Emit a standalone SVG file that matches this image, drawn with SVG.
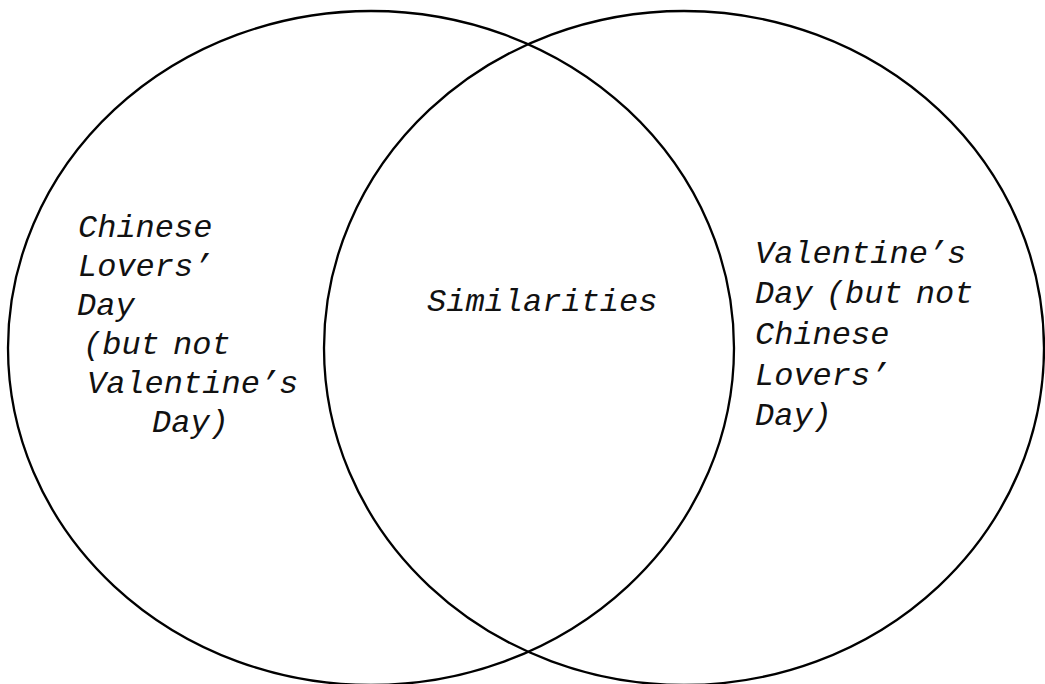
<svg xmlns="http://www.w3.org/2000/svg" width="1045" height="684" viewBox="0 0 1045 684">
<style>
.c{fill:none;stroke:#000;stroke-width:2.3}
.t{font-family:"Liberation Mono","Courier New",monospace;font-style:italic;font-size:32px;fill:#111}
.ws{word-spacing:-6px}
</style>
<rect width="1045" height="684" fill="#fff"/>
<g id="left-set">
<ellipse class="c" cx="371" cy="348" rx="363" ry="337"/>
<text class="t" x="78" y="237">Chinese</text>
<text class="t" x="78" y="276">Lovers’</text>
<text class="t" x="77" y="315">Day</text>
<text class="t ws" x="83" y="354">(but not</text>
<text class="t" x="87" y="393">Valentine’s</text>
<text class="t" x="152" y="432">Day)</text>
</g>
<g id="right-set">
<ellipse class="c" cx="684" cy="348" rx="360" ry="337"/>
<text class="t" x="755" y="263">Valentine’s</text>
<text class="t ws" x="755" y="303">Day (but not</text>
<text class="t" x="755" y="344">Chinese</text>
<text class="t" x="755" y="385">Lovers’</text>
<text class="t" x="755" y="425">Day)</text>
</g>
<g id="intersection">
<text class="t" x="427" y="311">Similarities</text>
</g>
<g id="connectors"/>
</svg>
